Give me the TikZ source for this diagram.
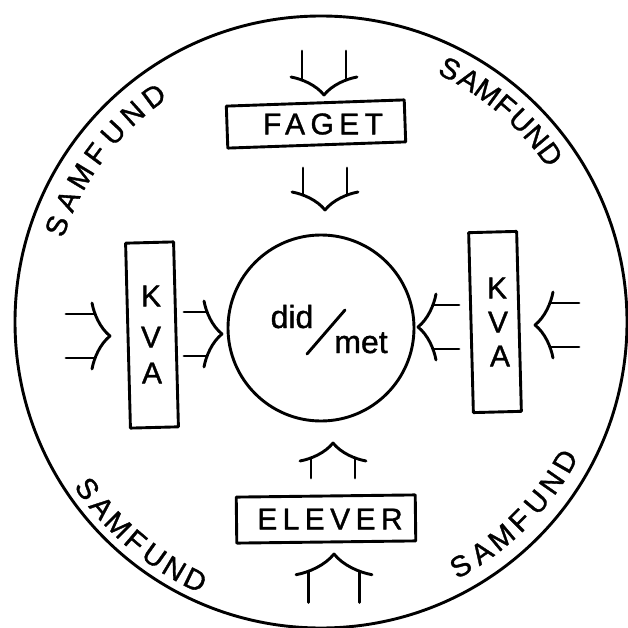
\documentclass[tikz,border=0pt]{standalone}
\usepackage{fontspec}
\setmainfont{Liberation Sans}[FakeBold=1.2]
\newfontfamily\hand{Liberation Sans}[FakeBold=1.2]
\newfontfamily\spaced{Liberation Sans}[LetterSpace=18,FakeBold=1.2]
\tikzset{
  forklen/.store in=\forklen, forklen=44,
  pics/fork/.style={code={
    \draw (-18,-33) .. controls (-16,-22) and (-10,-8) .. (0,0)
                    .. controls (-10,8) and (-16,22) .. (-18,33);
    \draw (-\forklen,-22) -- (-15,-22);
    \draw (-\forklen,22) -- (-15,22);
  }},
  box/.style={draw,rectangle,inner sep=0pt},
  lbl/.style={font=\hand\fontsize{30}{36}\selectfont, inner sep=0pt},
  wide/.style={font=\spaced\fontsize{30}{36}\selectfont, inner sep=0pt},
  samf/.style={font=\hand\fontsize{29}{34}\selectfont, inner sep=0pt},
  small/.style={font=\hand\fontsize{32}{38}\selectfont, inner sep=0pt}
}
\begin{document}
\begin{tikzpicture}[x=1pt,y=-1pt,line width=2.9pt,line cap=round,line join=round]
\useasboundingbox (0,0) rectangle (627,628);

% outer circle
\node[draw,circle,minimum size=612,inner sep=0pt] (world) at (321,322) {};

% inner circle
\node[draw,circle,minimum size=186,inner sep=0pt] (core) at (321,328) {};
\node[small,anchor=base] (did) at (292,328) {did};
\node[small,anchor=base] (met) at (361,353) {met};
\coordinate (sl1) at (307,354);
\coordinate (sl2) at (345,310);
\draw (sl1) -- (sl2);

% FAGET
\node[box,minimum width=178,minimum height=42,rotate=2] (faget) at (316,124) {};
\node[wide] (fagettxt) at (323,124) {FAGET};

% ELEVER
\node[box,minimum width=179,minimum height=46,rotate=0.7] (elever) at (326,519) {};
\node[wide] (elevertxt) at (330,519) {ELEVER};

% KVA left
\node[box,minimum width=48,minimum height=185,rotate=1.5] (kvaL) at (152,335) {};
\node[lbl] (kL) at (151,296) {K};
\node[lbl] (vL) at (151,337) {V};
\node[lbl] (aL) at (152,373) {A};

% KVA right
\node[box,minimum width=48,minimum height=180,rotate=1.5] (kvaR) at (495,322) {};
\node[lbl] (kR) at (497,288) {K};
\node[lbl] (vR) at (498,322) {V};
\node[lbl] (aR) at (500,356) {A};

% fork arrows
\pic[rotate=-90] at (324,95) {fork};
\pic[rotate=-90,forklen=42] at (325,210) {fork};
\pic[rotate=90,forklen=35] at (333,443) {fork};
\pic[rotate=90,scale=1.15,forklen=42] at (334,554) {fork};
\pic at (110,336) {fork};
\pic[forklen=38] at (222,334) {fork};
\pic[rotate=180,forklen=41] at (418,327) {fork};
\pic[rotate=180] at (535,325) {fork};

% SAMFUND labels
\foreach \ch [count=\i from 0] in {S,A,M,F,U,N,D} {
  \pgfmathsetmacro\ang{160+\i*(126.5-160)/6}
  \pgfmathsetmacro\px{321+281*cos(\ang)}
  \pgfmathsetmacro\py{322-281*sin(\ang)}
  \node[samf,rotate=\ang-90] (tl\i) at (\px,\py) {\ch};
}
\foreach \ch [count=\i from 0] in {S,A,M,F,U,N,D} {
  \pgfmathsetmacro\ang{63+\i*(36.2-63)/6}
  \pgfmathsetmacro\px{321+284*cos(\ang)}
  \pgfmathsetmacro\py{322-284*sin(\ang)}
  \node[samf,rotate=\ang-90] (tr\i) at (\px,\py) {\ch};
}
\foreach \ch [count=\i from 0] in {S,A,M,F,U,N,D} {
  \pgfmathsetmacro\ang{215.5+\i*(244-215.5)/6}
  \pgfmathsetmacro\px{321+287*cos(\ang)}
  \pgfmathsetmacro\py{322-287*sin(\ang)}
  \node[samf,rotate=\ang+90] (bl\i) at (\px,\py) {\ch};
}
\foreach \ch [count=\i from 0] in {S,A,M,F,U,N,D} {
  \pgfmathsetmacro\ang{299.8+\i*(330.3-299.8)/6}
  \pgfmathsetmacro\px{321+281*cos(\ang)}
  \pgfmathsetmacro\py{322-281*sin(\ang)}
  \node[samf,rotate=\ang+90] (br\i) at (\px,\py) {\ch};
}
\end{tikzpicture}
\end{document}
